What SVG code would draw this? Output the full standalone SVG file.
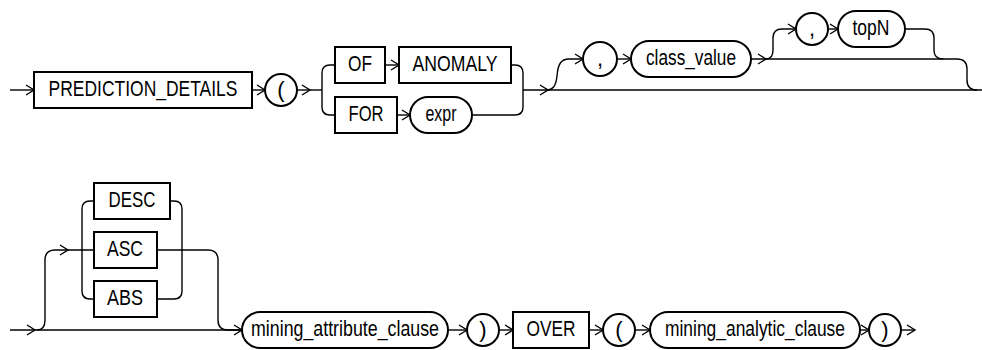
<svg xmlns="http://www.w3.org/2000/svg" xmlns:xlink="http://www.w3.org/1999/xlink" width="982" height="350" viewBox="0 0 982 350">
<defs>
<style>
.box{fill:#fff;stroke:#000;stroke-width:2}
.ln{fill:none;stroke:#000;stroke-width:1.4}
.ah{fill:none;stroke:#000;stroke-width:1.4}
text{font-family:"Liberation Sans",Arial,sans-serif;font-size:22px;fill:#000;text-anchor:middle}
</style>
<path id="ah" class="ah" d="M-8,-5 L0,0 L-8,5"/>
</defs>
<rect width="982" height="350" fill="#fff"/>
<g id="connectors">
<path class="ln" d="M10,90 H34"/>
<path class="ln" d="M252,90 H265"/>
<path class="ln" d="M297,90 H322"/>
<path class="ln" d="M335,65 H330 Q322,65 322,73 V107 Q322,115 330,115 H335"/>
<path class="ln" d="M385,65 H399"/>
<path class="ln" d="M397,115 H410"/>
<path class="ln" d="M511,65 H515 Q523,65 523,73 V107 Q523,115 515,115 H472"/>
<path class="ln" d="M523,90 H982"/>
<path class="ln" d="M546,90 C553,90 556,86 557,76 C558,64 561,59 569,59 H583"/>
<path class="ln" d="M617,59 H631"/>
<path class="ln" d="M751,59 H957 Q967,59 967,69 V80 Q967,90 977,90"/>
<path class="ln" d="M766,59 Q773,59 773,50 V38 Q773,29 782,29 H796"/>
<path class="ln" d="M828,29 H838"/>
<path class="ln" d="M905,29 H925 Q934,29 934,38 V50 Q934,59 943,59"/>
<use href="#ah" x="34" y="90"/>
<use href="#ah" x="265" y="90"/>
<use href="#ah" x="310" y="90"/>
<use href="#ah" x="399" y="65"/>
<use href="#ah" x="410" y="115"/>
<use href="#ah" x="548" y="90"/>
<use href="#ah" x="583" y="59"/>
<use href="#ah" x="631" y="59"/>
<use href="#ah" x="766" y="59"/>
<use href="#ah" x="796" y="29"/>
<use href="#ah" x="838" y="29"/>
<path class="ln" d="M10,330 H242"/>
<path class="ln" d="M37,330 Q45,330 45,320 V260 Q45,250 55,250 H94"/>
<path class="ln" d="M94,201 H90 Q82,201 82,209 V291 Q82,299 90,299 H94"/>
<path class="ln" d="M170,201 H174 Q182,201 182,209 V291 Q182,299 174,299 H157"/>
<path class="ln" d="M157,250 H208 Q218,250 218,260 V320 Q218,330 228,330 H242"/>
<path class="ln" d="M448,330 H467"/>
<path class="ln" d="M499,330 H513"/>
<path class="ln" d="M589,330 H603"/>
<path class="ln" d="M635,330 H650"/>
<path class="ln" d="M860,330 H869"/>
<path class="ln" d="M901,330 H915"/>
<use href="#ah" x="35" y="330"/>
<use href="#ah" x="68" y="250"/>
<use href="#ah" x="242" y="330"/>
<use href="#ah" x="467" y="330"/>
<use href="#ah" x="513" y="330"/>
<use href="#ah" x="603" y="330"/>
<use href="#ah" x="650" y="330"/>
<use href="#ah" x="869" y="330"/>
<use href="#ah" x="915" y="330"/>
</g>
<g id="n_prediction_details"><rect class="box" x="34" y="72" width="218" height="36"/><text x="143" y="96" textLength="189" lengthAdjust="spacingAndGlyphs">PREDICTION_DETAILS</text></g>
<g id="n_lparen1"><circle class="box" cx="281" cy="90" r="16"/><text x="281" y="97">(</text></g>
<g id="n_of"><rect class="box" x="335" y="47" width="50" height="36"/><text x="360" y="71" textLength="24" lengthAdjust="spacingAndGlyphs">OF</text></g>
<g id="n_anomaly"><rect class="box" x="399" y="47" width="112" height="36"/><text x="455" y="71" textLength="85" lengthAdjust="spacingAndGlyphs">ANOMALY</text></g>
<g id="n_for"><rect class="box" x="335" y="97" width="62" height="36"/><text x="366" y="121" textLength="35" lengthAdjust="spacingAndGlyphs">FOR</text></g>
<g id="n_expr"><rect class="box" x="410" y="97" width="62" height="36" rx="18"/><text x="441" y="121" textLength="31" lengthAdjust="spacingAndGlyphs">expr</text></g>
<g id="n_comma1"><circle class="box" cx="600" cy="59" r="17"/><text x="600" y="66">,</text></g>
<g id="n_class_value"><rect class="box" x="631" y="41" width="120" height="36" rx="18"/><text x="691" y="65" textLength="90" lengthAdjust="spacingAndGlyphs">class_value</text></g>
<g id="n_comma2"><circle class="box" cx="812" cy="29" r="16"/><text x="812" y="36">,</text></g>
<g id="n_topn"><rect class="box" x="838" y="11" width="67" height="36" rx="18"/><text x="871" y="35" textLength="37" lengthAdjust="spacingAndGlyphs">topN</text></g>
<g id="n_desc"><rect class="box" x="94" y="183" width="76" height="36"/><text x="132" y="207" textLength="47" lengthAdjust="spacingAndGlyphs">DESC</text></g>
<g id="n_asc"><rect class="box" x="94" y="232" width="63" height="36"/><text x="125" y="256" textLength="36" lengthAdjust="spacingAndGlyphs">ASC</text></g>
<g id="n_abs"><rect class="box" x="94" y="281" width="63" height="36"/><text x="125" y="305" textLength="36" lengthAdjust="spacingAndGlyphs">ABS</text></g>
<g id="n_mining_attribute_clause"><rect class="box" x="242" y="312" width="206" height="36" rx="18"/><text x="345" y="336" textLength="188" lengthAdjust="spacingAndGlyphs">mining_attribute_clause</text></g>
<g id="n_rparen1"><circle class="box" cx="483" cy="330" r="16"/><text x="483" y="337">)</text></g>
<g id="n_over"><rect class="box" x="513" y="312" width="76" height="36"/><text x="551" y="336" textLength="49" lengthAdjust="spacingAndGlyphs">OVER</text></g>
<g id="n_lparen2"><circle class="box" cx="619" cy="330" r="16"/><text x="619" y="337">(</text></g>
<g id="n_mining_analytic_clause"><rect class="box" x="650" y="312" width="210" height="36" rx="18"/><text x="755" y="336" textLength="180" lengthAdjust="spacingAndGlyphs">mining_analytic_clause</text></g>
<g id="n_rparen2"><circle class="box" cx="885" cy="330" r="16"/><text x="885" y="337">)</text></g>
</svg>
